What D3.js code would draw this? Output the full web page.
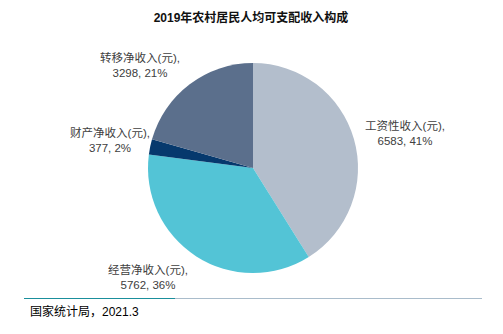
<!DOCTYPE html>
<html><head><meta charset="utf-8">
<script src="https://cdn.jsdelivr.net/npm/d3@7"></script>
<style>body{margin:0;background:#fff}svg{display:block}</style>
</head><body>
<svg id="c" width="503" height="334"></svg>
<script>
const categories = ["工资性收入(元)", "经营净收入(元)", "财产净收入(元)", "转移净收入(元)"];
const values = [6583, 5762, 377, 3298];
const percents = ["41%", "36%", "2%", "21%"];
const colors = ["#b3becc", "#53c4d6", "#06396d", "#5b6f8c"];
const title = "2019年农村居民人均可支配收入构成";
const source = "国家统计局，2021.3";

const svg = d3.select("#c");
const font = "'Liberation Sans', Arial, 'Noto Sans CJK SC', sans-serif";
const cx = 253, cy = 168, r = 105;

svg.append("text").attr("x", 251).attr("y", 22).attr("text-anchor", "middle")
  .attr("font-family", font).attr("font-size", 12).attr("font-weight", "bold").attr("fill", "#111")
  .text(title);

const pie = d3.pie().sort(null).value(d => d)(values);
const arc = d3.arc().innerRadius(0).outerRadius(r);
const g = svg.append("g").attr("transform", `translate(${cx},${cy})`);
g.selectAll("path").data(pie).join("path").attr("d", arc).attr("fill", (d, i) => colors[i]);

// label placement (outside, per slice)
const labelPos = [[405, 130], [148, 274], [110, 137], [140, 62]];
const lg = svg.append("g").attr("font-family", font).attr("font-size", 11.5).attr("fill", "#404040");
categories.forEach((c, i) => {
  const t = lg.append("text").attr("text-anchor", "middle").attr("x", labelPos[i][0]).attr("y", labelPos[i][1]);
  t.append("tspan").attr("x", labelPos[i][0]).attr("dy", 0).text(c + ",");
  t.append("tspan").attr("x", labelPos[i][0]).attr("dy", 14.5).text(values[i] + ", " + percents[i]);
});

svg.append("line").attr("x1", 24).attr("x2", 175).attr("y1", 298.5).attr("y2", 298.5)
  .attr("stroke", "#1a8f9c").attr("stroke-width", 1.2);
svg.append("line").attr("x1", 175).attr("x2", 482).attr("y1", 298.5).attr("y2", 298.5)
  .attr("stroke", "#a9bccb").attr("stroke-width", 1.2);
svg.append("text").attr("x", 30).attr("y", 316).attr("font-family", font).attr("font-size", 12)
  .attr("fill", "#000").text(source);
</script>
</body></html>
